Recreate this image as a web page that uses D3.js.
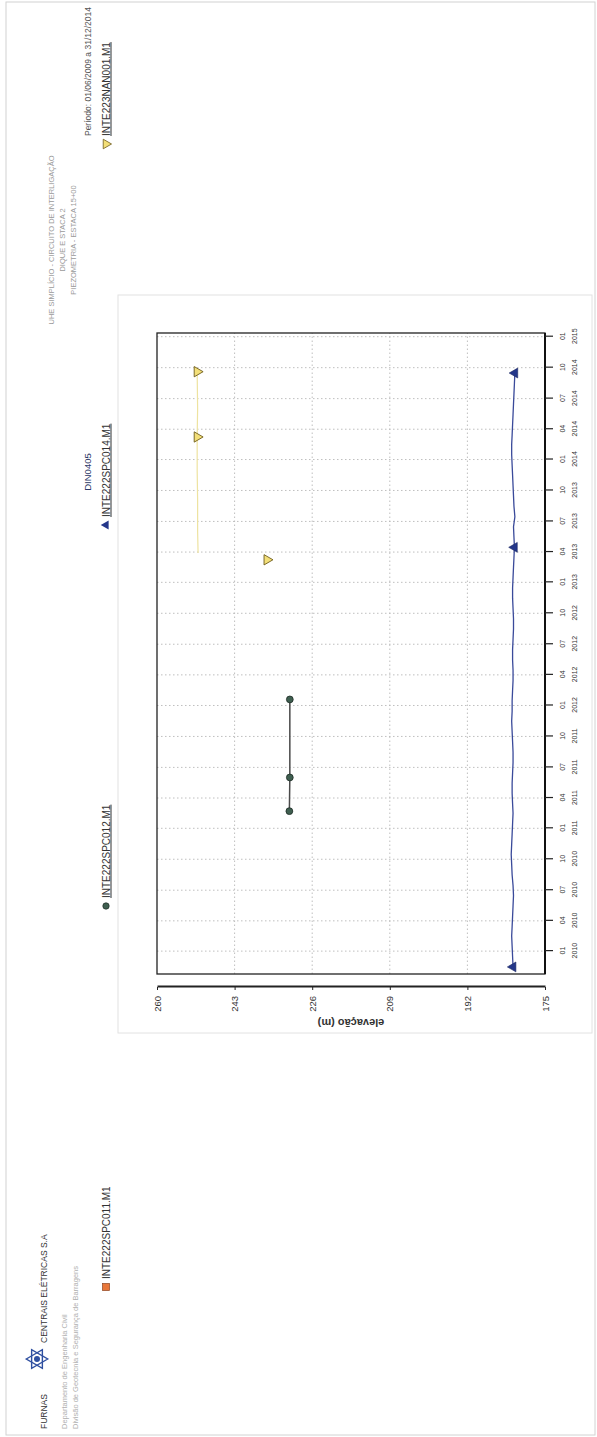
<!DOCTYPE html>
<html>
<head>
<meta charset="utf-8">
<script src="https://cdn.jsdelivr.net/npm/d3@7"></script>
<style>
  body { margin: 0; background: #fff; }
  text { font-family: "Liberation Sans", Arial, sans-serif; }
</style>
</head>
<body>
<script>
'use strict';

// ---- chart data ----
const valueTicks = [175, 192, 209, 226, 243, 260];
const quarterTicks = [
  "2010-01-01", "2010-04-01", "2010-07-01", "2010-10-01",
  "2011-01-01", "2011-04-01", "2011-07-01", "2011-10-01",
  "2012-01-01", "2012-04-01", "2012-07-01", "2012-10-01",
  "2013-01-01", "2013-04-01", "2013-07-01", "2013-10-01",
  "2014-01-01", "2014-04-01", "2014-07-01", "2014-10-01",
  "2015-01-01"
];

// INTE222SPC014.M1 (blue) - monthly readings
const spc014Months = [
  "2009-11", "2009-12",
  "2010-01", "2010-02", "2010-03", "2010-04", "2010-05", "2010-06", "2010-07", "2010-08", "2010-09", "2010-10", "2010-11", "2010-12",
  "2011-01", "2011-02", "2011-03", "2011-04", "2011-05", "2011-06", "2011-07", "2011-08", "2011-09", "2011-10", "2011-11", "2011-12",
  "2012-01", "2012-02", "2012-03", "2012-04", "2012-05", "2012-06", "2012-07", "2012-08", "2012-09", "2012-10", "2012-11", "2012-12",
  "2013-01", "2013-02", "2013-03", "2013-04", "2013-05", "2013-06", "2013-07", "2013-08", "2013-09", "2013-10", "2013-11", "2013-12",
  "2014-01", "2014-02", "2014-03", "2014-04", "2014-05", "2014-06", "2014-07", "2014-08", "2014-09"
];
const spc014Values = [
  182.0, 182.1,
  182.2, 182.3, 182.2, 182.1, 182.0, 181.9, 182.0, 182.2, 182.3, 182.4, 182.3, 182.2,
  182.1, 182.0, 182.1, 182.2, 182.2, 182.1, 182.0, 182.0, 182.1, 182.2, 182.3, 182.2,
  182.2, 182.1, 182.0, 182.0, 182.1, 182.1, 182.0, 181.9, 181.9, 182.0, 182.1, 182.1,
  182.0, 181.9, 181.8, 181.7, 181.8, 181.9, 181.6, 181.8, 181.9, 182.0, 182.1, 182.2,
  182.3, 182.3, 182.2, 182.1, 182.0, 181.9, 181.8, 181.7, 181.6
];
const spc014MarkerMonths = ["2009-11", "2013-04", "2014-09"];

// INTE222SPC012.M1 (green)
const spc012Dates = ["2011-02-21", "2011-06-01", "2012-01-19"];
const spc012Values = [231.0, 230.9, 230.9];

// INTE223NAN001.M1 (yellow)
const nanLineDates = ["2013-03-29", "2013-06-01", "2013-09-01", "2013-12-01", "2014-03-09", "2014-06-01", "2014-09-19"];
const nanLineValues = [251.0, 251.1, 251.1, 251.2, 251.2, 251.1, 251.2];
const nanMarkerDates = ["2013-03-09", "2014-03-09", "2014-09-19"];
const nanMarkerValues = [235.9, 251.2, 251.2];

const legendNames = ["INTE222SPC011.M1", "INTE222SPC012.M1", "INTE222SPC014.M1", "INTE223NAN001.M1"];
const headerLines = ["UHE SIMPLÍCIO - CIRCUITO DE INTERLIGAÇÃO", "DIQUE E STACA 2", "PIEZOMETRIA - ESTACA 15+00"];

(function() {
  const parseDay = d3.timeParse("%Y-%m-%d");
  const parseMonth = d3.timeParse("%Y-%m");

  // the scanned page is turned a quarter turn: draw it upright, then rotate
  const pageW = 1437, pageH = 597;
  const svg = d3.select('body').append('svg')
    .attr('width', 597)
    .attr('height', 1437);
  const page = svg.append('g')
    .attr('transform', `translate(0,${pageW}) rotate(-90)`);

  // page border and chart panel
  page.append('rect')
    .attr('x', 2).attr('y', 6).attr('width', pageW - 4).attr('height', pageH - 8)
    .style('fill', 'none').style('stroke', '#d2d2d2');
  page.append('rect')
    .attr('x', 404).attr('y', 118).attr('width', 738).attr('height', 474)
    .style('fill', 'none').style('stroke', '#e2e2e2');

  // scales
  const xScale = d3.scaleTime()
    .domain([parseDay("2009-10-25"), parseDay("2015-01-12")])
    .range([463, 1104]);
  const yScale = d3.scaleLinear()
    .domain([175, 260])
    .range([545, 157]);
  const [x0, x1] = xScale.range();
  const [yb, yt] = yScale.range();

  // grid
  const quarters = quarterTicks.map(parseDay);
  page.append('g').selectAll('line')
    .data(quarters)
    .enter().append('line')
      .attr('x1', d => xScale(d)).attr('x2', d => xScale(d))
      .attr('y1', yt).attr('y2', yb)
      .style('stroke', '#b8b8b8').style('stroke-width', 0.9)
      .style('stroke-dasharray', '1.5,2.5');
  page.append('g').selectAll('line')
    .data(valueTicks.slice(1, -1))
    .enter().append('line')
      .attr('x1', x0).attr('x2', x1)
      .attr('y1', d => yScale(d)).attr('y2', d => yScale(d))
      .style('stroke', '#b8b8b8').style('stroke-width', 0.9)
      .style('stroke-dasharray', '1.5,2.5');

  // frame
  page.append('rect')
    .attr('x', x0).attr('y', yt).attr('width', x1 - x0).attr('height', yb - yt)
    .style('fill', 'none').style('stroke', '#222').style('stroke-width', 1.3);
  page.append('line')
    .attr('x1', x0).attr('x2', x1).attr('y1', yb).attr('y2', yb)
    .style('stroke', '#111').style('stroke-width', 2);

  // time axis: month over year
  const xAxis = d3.axisBottom(xScale)
    .tickValues(quarters)
    .tickSize(8)
    .tickSizeOuter(0)
    .tickPadding(7)
    .tickFormat(d3.timeFormat('%m'));
  const xg = page.append('g')
    .attr('transform', `translate(0,${yb})`)
    .call(xAxis);
  xg.select('.domain').remove();
  xg.selectAll('.tick line').style('stroke', '#222').style('stroke-width', 1.2);
  xg.selectAll('.tick text').style('font-size', '7px').style('fill', '#333');
  xg.selectAll('.tick').append('text')
    .attr('y', 27).attr('dy', '0.71em')
    .attr('text-anchor', 'middle')
    .style('font-size', '7px').style('fill', '#333')
    .text(d => d3.timeFormat('%Y')(d));

  // value axis, set off from the frame
  const yAxis = d3.axisLeft(yScale)
    .tickValues(valueTicks)
    .tickSize(3)
    .tickSizeOuter(0)
    .tickPadding(6)
    .tickFormat(d3.format('d'));
  const yg = page.append('g')
    .attr('transform', 'translate(450,0)')
    .call(yAxis);
  yg.select('.domain').style('stroke', '#222').style('stroke-width', 2);
  yg.selectAll('.tick line').style('stroke', '#222');
  yg.selectAll('.tick text').style('font-size', '9.5px').style('fill', '#333');

  page.append('text')
    .attr('transform', `translate(418,${(yt + yb) / 2}) rotate(-90)`)
    .attr('text-anchor', 'middle')
    .style('font-size', '11px').style('font-weight', 'bold').style('fill', '#333')
    .text('elevação (m)');

  const line = d3.line()
    .x(d => xScale(d.date))
    .y(d => yScale(d.value));

  // INTE223NAN001.M1 pale line + markers
  const nanLine = nanLineDates.map((d, i) => ({ date: parseDay(d), value: nanLineValues[i] }));
  page.append('path')
    .datum(nanLine)
    .attr('d', line)
    .style('fill', 'none').style('stroke', '#eee3a0').style('stroke-width', 1.2);

  // INTE222SPC014.M1 blue line
  const spc014 = spc014Months.map((m, i) => ({ date: d3.timeDay.offset(parseMonth(m), 14), value: spc014Values[i], month: m }));
  page.append('path')
    .datum(spc014)
    .attr('d', line)
    .style('fill', 'none').style('stroke', '#3a4a9a').style('stroke-width', 1.3);
  page.append('g').selectAll('path')
    .data(spc014.filter(d => spc014MarkerMonths.includes(d.month)))
    .enter().append('path')
      .attr('transform', d => `translate(${xScale(d.date)},${yScale(d.value)})`)
      .attr('d', d3.symbol(d3.symbolTriangle, 42))
      .style('fill', '#24378a').style('stroke', '#1a2560').style('stroke-width', 0.6);

  // INTE222SPC012.M1 green points
  const spc012 = spc012Dates.map((d, i) => ({ date: parseDay(d), value: spc012Values[i] }));
  page.append('path')
    .datum(spc012)
    .attr('d', line)
    .style('fill', 'none').style('stroke', '#4a4a4a').style('stroke-width', 1.5);
  page.append('g').selectAll('circle')
    .data(spc012)
    .enter().append('circle')
      .attr('cx', d => xScale(d.date))
      .attr('cy', d => yScale(d.value))
      .attr('r', 3.4)
      .style('fill', '#3f5f50').style('stroke', '#1d2b24').style('stroke-width', 0.8);

  const nanMarks = nanMarkerDates.map((d, i) => ({ date: parseDay(d), value: nanMarkerValues[i] }));
  page.append('g').selectAll('path')
    .data(nanMarks)
    .enter().append('path')
      .attr('transform', d => `translate(${xScale(d.date)},${yScale(d.value)}) rotate(180)`)
      .attr('d', d3.symbol(d3.symbolTriangle, 46))
      .style('fill', '#f3df78').style('stroke', '#6e5c1c').style('stroke-width', 0.9);

  // legend row
  const legendX = [150, 531, 912, 1293];
  const legendY = 106;
  const legend = page.append('g').selectAll('g')
    .data(legendNames)
    .enter().append('g')
      .attr('transform', (d, i) => `translate(${legendX[i]},${legendY})`);
  legend.append('text')
    .attr('x', 8).attr('dy', '0.35em')
    .style('font-size', '10px').style('fill', '#333')
    .style('text-decoration', (d, i) => i === 0 ? 'none' : 'underline')
    .text(d => d);
  const lg = legend.nodes().map(n => d3.select(n));
  lg[0].append('rect')
    .attr('x', -3.5).attr('y', -3.5).attr('width', 7).attr('height', 7)
    .style('fill', '#e8773a').style('stroke', '#8f4520').style('stroke-width', 0.7);
  lg[1].append('circle')
    .attr('r', 3.2)
    .style('fill', '#3f5f50').style('stroke', '#1d2b24').style('stroke-width', 0.7);
  lg[2].append('path')
    .attr('d', d3.symbol(d3.symbolTriangle, 36))
    .style('fill', '#24378a');
  lg[3].append('path')
    .attr('transform', 'rotate(180)')
    .attr('d', d3.symbol(d3.symbolTriangle, 40))
    .style('fill', '#f3df78').style('stroke', '#6e5c1c').style('stroke-width', 0.8);

  // chart title above the legend
  page.append('text')
    .attr('x', 965).attr('y', 91)
    .attr('text-anchor', 'middle')
    .style('font-size', '9.5px').style('fill', '#2b3766')
    .text('DIN0405');

  // header block
  page.append('g').selectAll('text')
    .data(headerLines)
    .enter().append('text')
      .attr('x', 1197)
      .attr('y', (d, i) => 54 + i * 11)
      .attr('text-anchor', 'middle')
      .style('font-size', '7.5px').style('fill', '#9a9a9a')
      .text(d => d);

  page.append('text')
    .attr('x', 1430).attr('y', 91)
    .attr('text-anchor', 'end')
    .style('font-size', '8.5px').style('fill', '#555')
    .text('Período: 01/06/2009 a 31/12/2014');

  // company block, top left of the page
  page.append('text')
    .attr('x', 8).attr('y', 47)
    .style('font-size', '8.5px').style('fill', '#333')
    .text('FURNAS');
  const logo = page.append('g').attr('transform', 'translate(78,37)');
  logo.append('path')
    .attr('d', d3.symbol(d3.symbolTriangle, 150))
    .style('fill', 'none').style('stroke', '#2f4fa0').style('stroke-width', 1.4);
  logo.append('path')
    .attr('transform', 'rotate(180)')
    .attr('d', d3.symbol(d3.symbolTriangle, 150))
    .style('fill', 'none').style('stroke', '#2f4fa0').style('stroke-width', 1.4);
  logo.append('circle')
    .attr('r', 3).style('fill', '#2f4fa0');
  page.append('text')
    .attr('x', 94).attr('y', 47)
    .style('font-size', '8.5px').style('fill', '#333')
    .text('CENTRAIS ELÉTRICAS S.A');
  page.append('text')
    .attr('x', 8).attr('y', 67)
    .style('font-size', '7.5px').style('fill', '#b0b0b0')
    .text('Departamento de Engenharia Civil');
  page.append('text')
    .attr('x', 8).attr('y', 78)
    .style('font-size', '7.5px').style('fill', '#b0b0b0')
    .text('Divisão de Geotecnia e Segurança de Barragens');
})();
</script>
</body>
</html>
